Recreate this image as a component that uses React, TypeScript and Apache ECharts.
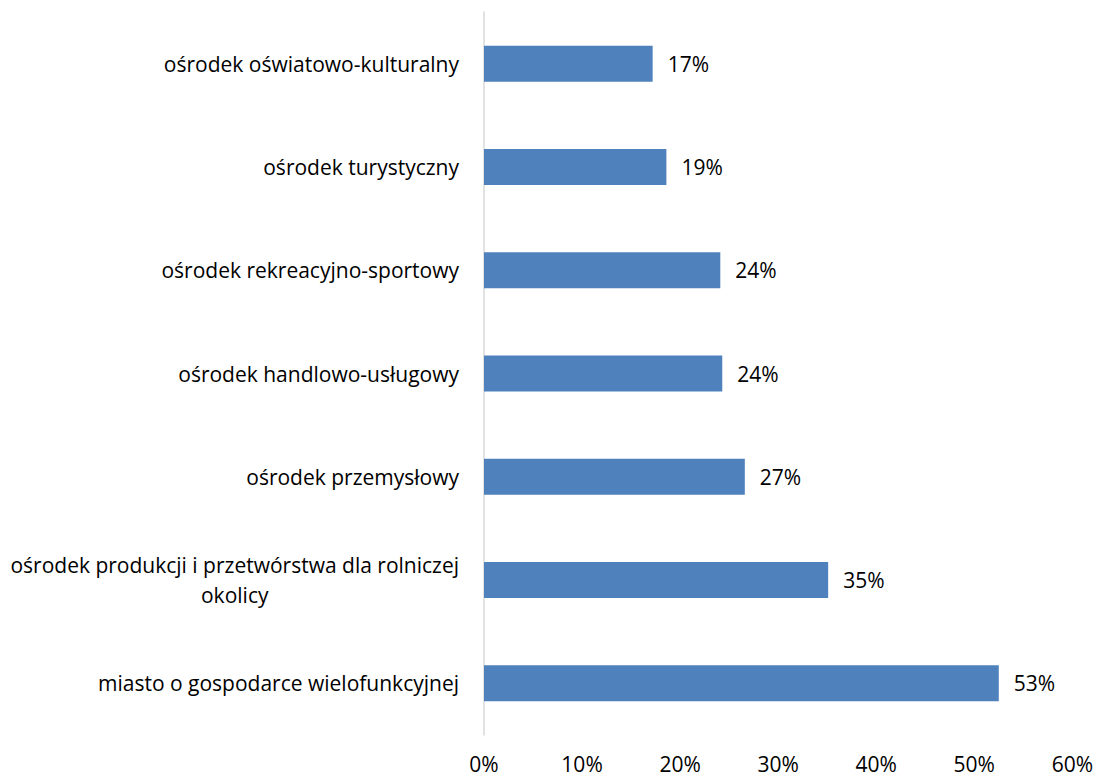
import React, { useEffect, useRef } from "react";
import * as echarts from "echarts";

const categories: string[] = [
  "miasto o gospodarce wielofunkcyjnej",
  "ośrodek produkcji i przetwórstwa dla rolniczej\nokolicy",
  "ośrodek przemysłowy",
  "ośrodek handlowo-usługowy",
  "ośrodek rekreacyjno-sportowy",
  "ośrodek turystyczny",
  "ośrodek oświatowo-kulturalny",
];

const values: number[] = [52.5, 35.1, 26.6, 24.3, 24.1, 18.6, 17.2];

const xTicks = { min: 0, max: 60, interval: 10 };

const FONT = "Open Sans";

export default function App() {
  const ref = useRef<HTMLDivElement>(null);
  useEffect(() => {
    if (!ref.current) return;
    const chart = echarts.init(ref.current, undefined, { renderer: "svg" });
    chart.setOption({
      animation: false,
      backgroundColor: "#ffffff",
      grid: { left: 484, right: 23.5, top: 12, bottom: 43, containLabel: false },
      xAxis: {
        type: "value",
        min: xTicks.min,
        max: xTicks.max,
        interval: xTicks.interval,
        axisLine: { show: false },
        axisTick: { show: false },
        splitLine: { show: false },
        axisLabel: {
          formatter: (v: number) => `${v}%`,
          color: "#000",
          fontFamily: FONT,
          fontSize: 21,
          margin: 18,
        },
      },
      yAxis: {
        type: "category",
        data: categories,
        axisLine: { show: true, lineStyle: { color: "#d9d9d9", width: 1.5 } },
        axisTick: { show: false },
        splitLine: { show: false },
        axisLabel: {
          color: "#000",
          fontFamily: FONT,
          fontSize: 21,
          margin: 25,
          align: "right",
          formatter: (v: string) =>
            v
              .split("\n")
              .map((l) => `{c|${l}}`)
              .join("\n"),
          rich: {
            c: {
              align: "center",
              color: "#000",
              fontFamily: FONT,
              fontSize: 21,
              lineHeight: 30,
            },
          },
        },
      },
      series: [
        {
          type: "bar",
          data: values,
          barWidth: 36,
          itemStyle: { color: "#4f81bd" },
          label: {
            show: true,
            position: "right",
            distance: 15,
            color: "#000",
            fontFamily: FONT,
            fontSize: 21,
            formatter: (p: any) => `${Math.round(p.value)}%`,
          },
        },
      ],
    });
    return () => chart.dispose();
  }, []);
  return (
    <div
      ref={ref}
      style={{ position: "absolute", left: 0, top: 0, width: 1096, height: 778 }}
    />
  );
}
